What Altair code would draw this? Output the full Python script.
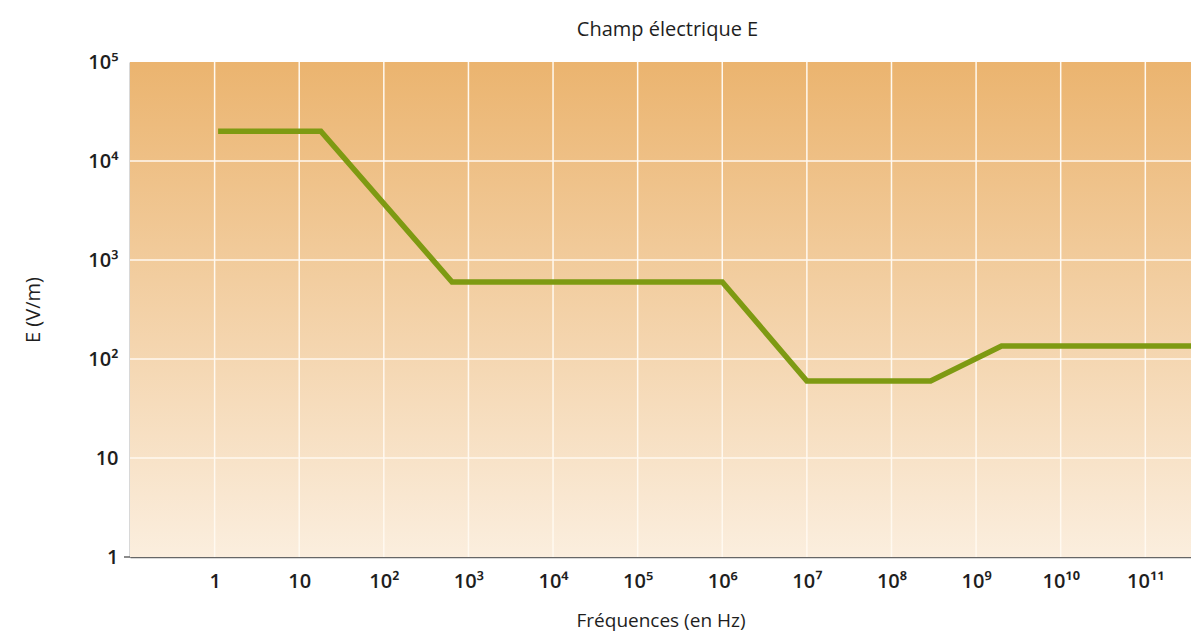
import altair as alt
import pandas as pd
import json

# ---- data ----
freq_hz = [1.1, 18, 640, 1e6, 1e7, 2.9e8, 2e9, 1e12]
e_field = [20000, 20000, 600, 600, 60, 60, 135, 135]

x_tick_values = [1, 10, 1e2, 1e3, 1e4, 1e5, 1e6, 1e7, 1e8, 1e9, 1e10, 1e11]
x_tick_labels = ["1", "10", "10²", "10³", "10⁴", "10⁵", "10⁶", "10⁷", "10⁸", "10⁹", "10¹⁰", "10¹¹"]
y_tick_values = [1, 10, 1e2, 1e3, 1e4, 1e5]
y_tick_labels = ["1", "10", "10²", "10³", "10⁴", "10⁵"]
y_grid_values = [10, 1e2, 1e3, 1e4]

FONT = "Open Sans"
W, H = 1061, 495

line_df = pd.DataFrame({"f": freq_hz, "E": e_field})
xgrid_df = pd.DataFrame({"f": x_tick_values})
ygrid_df = pd.DataFrame({"E": y_grid_values})
one = pd.DataFrame({"a": [0]})

xscale = alt.Scale(type="log", domain=[0.1, 10 ** 11.54], nice=False)
yscale = alt.Scale(type="log", domain=[1, 1e5], nice=False)

def label_expr(labels):
    return json.dumps(labels, ensure_ascii=False).replace('"', "'") + "[round(log(datum.value)/LN10)]"

x_axis = alt.Axis(
    values=x_tick_values, labelExpr=label_expr(x_tick_labels), grid=False, ticks=False,
    domainColor="#666666", domainWidth=1.5, labelFont=FONT, labelFontSize=20, labelFontWeight=600,
    labelColor="#1e1e1e", labelPadding=14, title="Fréquences (en Hz)", titleFont=FONT,
    titleFontSize=19, titleFontWeight=500, titleColor="#1e1e1e", titlePadding=20,
)
y_axis = alt.Axis(
    values=y_tick_values, labelExpr=label_expr(y_tick_labels), grid=False, ticks=False,
    domainColor="#666666", domainWidth=1.5, labelFont=FONT, labelFontSize=20, labelFontWeight=600,
    labelColor="#1e1e1e", labelPadding=12, labelBaseline="middle",
    title="E (V/m)", titleFont=FONT, titleFontSize=20, titleFontWeight=500,
    titleColor="#1e1e1e", titlePadding=44,
)

bg = alt.Chart(one).mark_rect(
    color=alt.LinearGradient(
        gradient="linear", x1=0, x2=0, y1=0, y2=1,
        stops=[alt.GradientStop(offset=0, color="#EBB46F"),
               alt.GradientStop(offset=1, color="#FBEEDE")],
    )
).encode(x=alt.value(0), x2=alt.value("width"), y=alt.value(0), y2=alt.value("height"))

vgrid = alt.Chart(xgrid_df).mark_rule(color="#FFF9F0", strokeWidth=1.5).encode(
    x=alt.X("f:Q", scale=xscale, axis=x_axis)
)
hgrid = alt.Chart(ygrid_df).mark_rule(color="#FFF9F0", strokeWidth=1.5).encode(
    y=alt.Y("E:Q", scale=yscale, axis=y_axis)
)
stub = alt.Chart(one).mark_rule(color="#666666", strokeWidth=1.5).encode(
    x=alt.value(-6), x2=alt.value(0), y=alt.value("height")
)

line = alt.Chart(line_df).mark_line(color="#7E9A12", strokeWidth=5.5, clip=True).encode(
    x=alt.X("f:Q", scale=xscale, axis=x_axis),
    y=alt.Y("E:Q", scale=yscale, axis=y_axis),
)

chart = alt.layer(bg, vgrid, hgrid, stub, line).properties(
    width=W, height=H,
    title=alt.TitleParams("Champ électrique E", font=FONT, fontSize=20, fontWeight=500,
                          color="#1e1e1e", anchor="middle", frame="group", offset=12, dx=7),
    padding={"left": 122, "top": 54, "right": 0, "bottom": 75},
    autosize=alt.AutoSizeParams(type="none"),
).configure_view(stroke=None).configure(background="white")

chart.save("out.html", embed_options={"renderer": "svg", "actions": False})
